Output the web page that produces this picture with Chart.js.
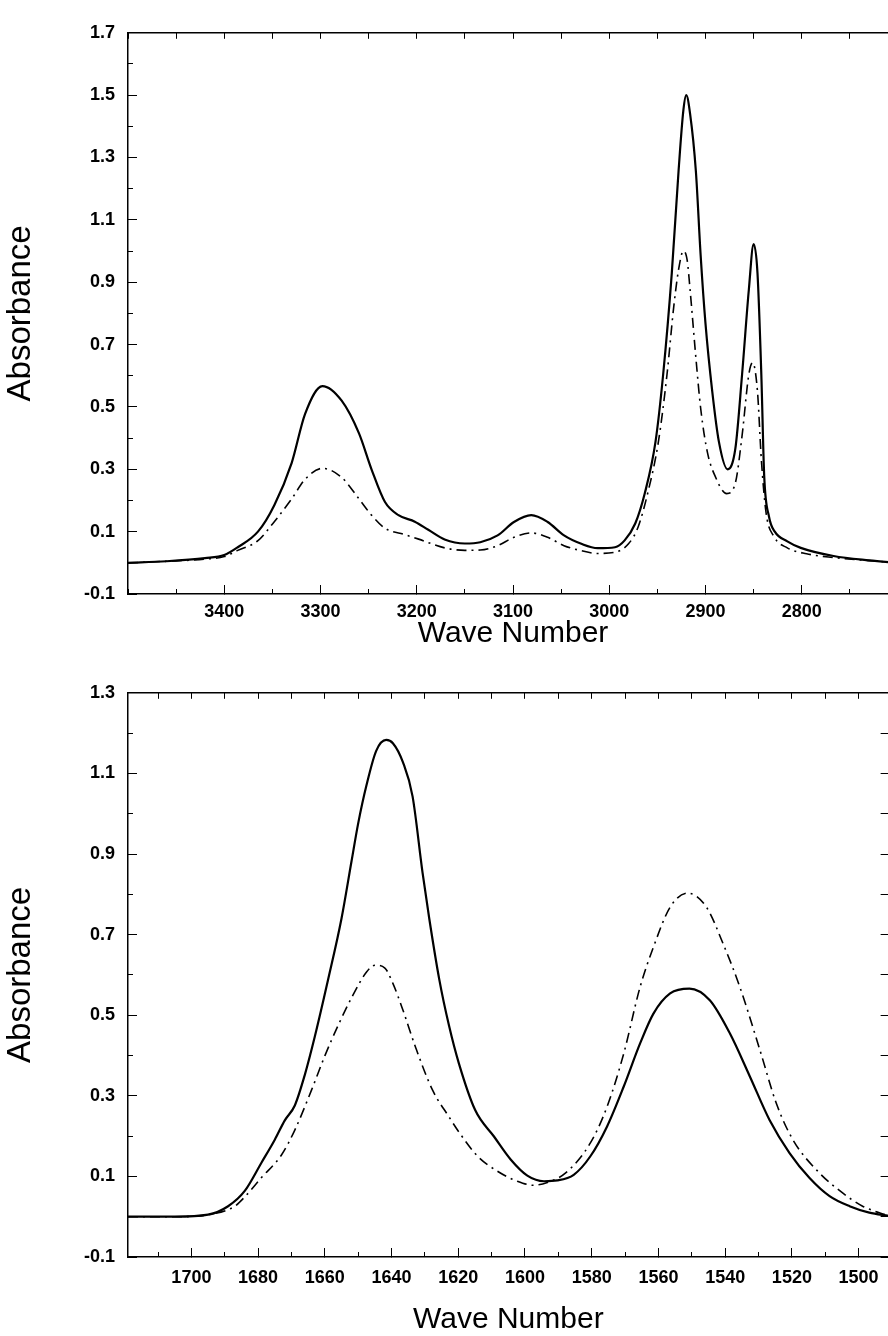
<!DOCTYPE html>
<html>
<head>
<meta charset="utf-8">
<title>IR absorbance spectra</title>
<script src="https://cdn.jsdelivr.net/npm/chart.js@4.4.1/dist/chart.umd.min.js"></script>
<style>
  html, body { margin: 0; padding: 0; background: #fff; overflow: hidden; }
  #wrap { position: relative; width: 898px; height: 1336px; }
  #wrap canvas { position: absolute; left: 0; }
</style>
</head>
<body>
<div id="wrap">
  <canvas id="chStretch" width="898" height="660" style="top:0"></canvas>
  <canvas id="chAmide" width="898" height="676" style="top:660px"></canvas>
</div>
<script>
// ---- C-H / N-H stretch region (top panel) ----
const stretchWaveSolid = [3500, 3460, 3420, 3400, 3386, 3365, 3348, 3330, 3316, 3298, 3278, 3260, 3247, 3233, 3219, 3202, 3188, 3171, 3150, 3134, 3116, 3099, 3081, 3064, 3047, 3029, 3012, 2994, 2984, 2973, 2963, 2952, 2944, 2935, 2928, 2923, 2920, 2916, 2910, 2905, 2900, 2893, 2886, 2877, 2869, 2862, 2855, 2850, 2846, 2842, 2839, 2834, 2828, 2815, 2801, 2767, 2730, 2700];
const stretchAbsSolid = [0.0, 0.005, 0.015, 0.025, 0.05, 0.10, 0.185, 0.32, 0.478, 0.567, 0.52, 0.415, 0.30, 0.195, 0.153, 0.132, 0.106, 0.075, 0.062, 0.066, 0.088, 0.131, 0.153, 0.131, 0.088, 0.061, 0.047, 0.05, 0.072, 0.126, 0.224, 0.387, 0.604, 0.93, 1.256, 1.451, 1.50, 1.44, 1.256, 0.984, 0.767, 0.55, 0.387, 0.30, 0.366, 0.604, 0.875, 1.022, 0.93, 0.604, 0.278, 0.148, 0.10, 0.069, 0.048, 0.022, 0.008, 0.0];
const stretchWaveDash = [3500, 3460, 3420, 3400, 3386, 3365, 3348, 3330, 3316, 3298, 3278, 3260, 3247, 3233, 3212, 3198, 3171, 3150, 3134, 3116, 3099, 3081, 3064, 3047, 3029, 3012, 2994, 2980, 2970, 2960, 2949, 2940, 2933, 2928, 2923, 2919, 2916, 2910, 2905, 2898, 2890, 2878, 2869, 2862, 2855, 2851, 2846, 2842, 2837, 2829, 2815, 2795, 2767, 2730, 2700];
const stretchAbsDash = [0.0, 0.005, 0.012, 0.02, 0.04, 0.071, 0.132, 0.205, 0.268, 0.303, 0.274, 0.205, 0.153, 0.111, 0.09, 0.076, 0.048, 0.04, 0.041, 0.055, 0.082, 0.096, 0.082, 0.055, 0.039, 0.03, 0.034, 0.061, 0.115, 0.224, 0.387, 0.604, 0.821, 0.94, 1.0, 0.97, 0.875, 0.658, 0.495, 0.354, 0.278, 0.222, 0.256, 0.408, 0.604, 0.642, 0.55, 0.332, 0.159, 0.085, 0.048, 0.029, 0.017, 0.007, 0.0];

// ---- amide I / II region (bottom panel) ----
const amideWaveSolid = [1719, 1705, 1695, 1689, 1684, 1679, 1675, 1672, 1669, 1666, 1663, 1659, 1655, 1652, 1650, 1647.5, 1644.6, 1641.6, 1639.6, 1636.6, 1633.7, 1630.7, 1628.7, 1625.7, 1622.8, 1619.8, 1614.9, 1609.3, 1604.3, 1599.3, 1594.3, 1590.3, 1585.4, 1580.4, 1575.4, 1570.4, 1565.5, 1561.5, 1556.5, 1550.7, 1544.6, 1538.6, 1532.6, 1526.7, 1520.7, 1514.7, 1508.7, 1502.7, 1496.8, 1491];
const amideAbsSolid = [0.0, 0.0, 0.005, 0.026, 0.064, 0.134, 0.191, 0.239, 0.276, 0.352, 0.447, 0.589, 0.74, 0.882, 0.976, 1.071, 1.156, 1.183, 1.175, 1.128, 1.043, 0.853, 0.74, 0.589, 0.475, 0.38, 0.264, 0.199, 0.142, 0.102, 0.088, 0.09, 0.104, 0.15, 0.224, 0.323, 0.43, 0.504, 0.554, 0.566, 0.537, 0.455, 0.348, 0.24, 0.158, 0.096, 0.051, 0.026, 0.01, 0.002];
const amideWaveDash = [1719, 1705, 1695, 1687, 1684, 1679, 1673, 1669, 1664, 1660, 1656, 1651.5, 1647.5, 1645, 1642, 1639.6, 1636.6, 1632.7, 1627.7, 1622.8, 1619.8, 1614.2, 1608.3, 1602.3, 1597.5, 1593.3, 1587.9, 1580.4, 1575.4, 1570.4, 1565.5, 1561.5, 1556.5, 1551.3, 1545.6, 1540.6, 1535.6, 1529.6, 1524.7, 1519.7, 1511.8, 1504.8, 1498.8, 1491];
const amideAbsDash = [0.0, 0.0, 0.005, 0.026, 0.049, 0.097, 0.153, 0.215, 0.314, 0.399, 0.475, 0.551, 0.607, 0.624, 0.617, 0.579, 0.513, 0.418, 0.314, 0.248, 0.21, 0.15, 0.113, 0.088, 0.078, 0.085, 0.108, 0.183, 0.273, 0.405, 0.57, 0.669, 0.768, 0.803, 0.768, 0.677, 0.57, 0.414, 0.282, 0.191, 0.109, 0.059, 0.026, 0.002];

const FONT = "'Liberation Sans', Arial, Helvetica, sans-serif";

const toPoints = (xs, ys) => xs.map((x, i) => ({ x, y: ys[i] }));

const solidLine = (data) => ({
  data,
  xAxisID: "x",
  yAxisID: "y",
  borderColor: "#000",
  borderWidth: 2.2,
  pointRadius: 0,
  fill: false,
  cubicInterpolationMode: "monotone",
});

const dashDotLine = (data) => ({
  ...solidLine(data),
  borderWidth: 1.6,
  borderDash: [10, 5, 2, 5],
});

// Frame with inward ticks: long ticks on labelled values, short ones in between.
// Minor axes get weight -1 so the layout puts them right against the plot area.
function buildScales(c) {
  const grid = (len) => ({ drawOnChartArea: false, drawTicks: true, tickLength: len, tickColor: "#000", tickWidth: 1 });
  const xBase = { type: "linear", reverse: true, min: c.xMin, max: c.xMax };
  const yBase = { type: "linear", min: c.yMin, max: c.yMax };
  const xTicks = { stepSize: c.xStep, includeBounds: false };
  const yTicks = { stepSize: 0.1, includeBounds: false };
  const labelFont = { family: FONT, size: 18, weight: "bold" };
  const isOddTenth = (v) => Math.abs(Math.round(v * 10) % 2) === 1;

  return {
    xMinor: {
      ...xBase,
      position: "bottom",
      weight: -1,
      ticks: { ...xTicks, display: false },
      grid: grid(-5),
      border: { display: false },
      afterFit: (s) => { s.height = 0; },
    },
    x: {
      ...xBase,
      position: "bottom",
      ticks: { ...xTicks, padding: c.xLabelPad, color: "#000", font: labelFont, maxRotation: 0, autoSkip: false, callback: (v) => String(v) },
      afterBuildTicks: (s) => {
        s.ticks = s.ticks.filter((t) => t.value % c.xMajor === 0 && t.value !== c.xMin && t.value !== c.xMax);
      },
      grid: grid(-9),
      border: { color: "#000", width: 1.5 },
      title: { display: true, text: "Wave Number", color: "#000", font: { family: FONT, size: 30, lineHeight: 1 }, padding: { top: 0, bottom: c.xTitlePad } },
      afterFit: (s) => { s.height = c.xHeight; },
    },
    xTop: {
      ...xBase,
      position: "top",
      ticks: { ...xTicks, display: false },
      grid: grid(-6),
      border: { color: "#000", width: 1.5 },
      afterFit: (s) => { s.height = 0; },
    },
    yMinor: {
      ...yBase,
      position: "left",
      weight: -1,
      ticks: { ...yTicks, display: false },
      grid: grid(-5),
      border: { display: false },
      afterFit: (s) => { s.width = 0; },
    },
    y: {
      ...yBase,
      position: "left",
      ticks: { ...yTicks, padding: 22, color: "#000", font: labelFont, autoSkip: false, callback: (v) => v.toFixed(1) },
      afterBuildTicks: (s) => { s.ticks = s.ticks.filter((t) => isOddTenth(t.value)); },
      grid: grid(-9),
      border: { color: "#000", width: 1.5 },
      title: { display: true, text: "Absorbance", color: "#000", font: { family: FONT, size: 33, lineHeight: 1 }, padding: { top: 4, bottom: 0 } },
      afterFit: (s) => { s.width = 128; },
    },
    yRight: {
      ...yBase,
      position: "right",
      ticks: { ...yTicks, display: false },
      grid: grid(-8),
      border: { color: "#000", width: 1.5 },
      afterFit: (s) => { s.width = 0; },
    },
  };
}

function makeChart(id, datasets, padding, scaleCfg) {
  return new Chart(document.getElementById(id), {
    type: "line",
    data: { datasets },
    options: {
      responsive: false,
      animation: false,
      devicePixelRatio: 1,
      layout: { padding },
      plugins: { legend: { display: false }, tooltip: { enabled: false } },
      scales: buildScales(scaleCfg),
    },
  });
}

makeChart(
  "chStretch",
  [
    solidLine(toPoints(stretchWaveSolid, stretchAbsSolid)),
    dashDotLine(toPoints(stretchWaveDash, stretchAbsDash)),
  ],
  { top: 21, left: 0, right: 0, bottom: 0 },
  { xMin: 2700, xMax: 3500, xStep: 50, xMajor: 100, yMin: -0.1, yMax: 1.7, xHeight: 66, xLabelPad: 16, xTitlePad: 11 }
);

makeChart(
  "chAmide",
  [
    solidLine(toPoints(amideWaveSolid, amideAbsSolid)),
    dashDotLine(toPoints(amideWaveDash, amideAbsDash)),
  ],
  { top: 31, left: 0, right: 0, bottom: 0 },
  { xMin: 1491, xMax: 1719, xStep: 10, xMajor: 20, yMin: -0.1, yMax: 1.3, xHeight: 79, xLabelPad: 19, xTitlePad: 1 }
);
</script>
</body>
</html>
